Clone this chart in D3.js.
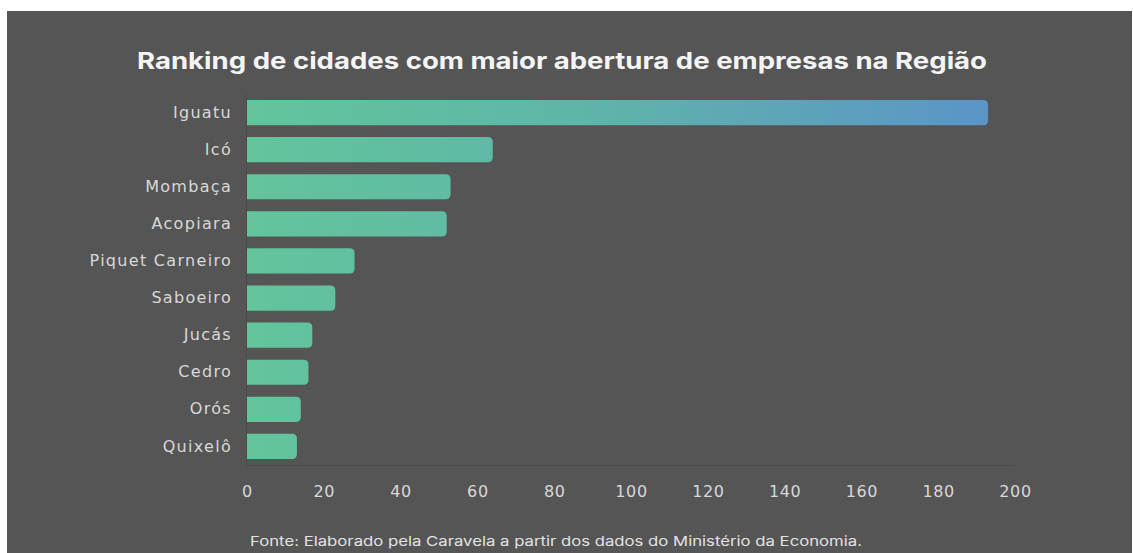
<!DOCTYPE html>
<html>
<head>
<meta charset="utf-8">
<script src="https://cdn.jsdelivr.net/npm/d3@7"></script>
<style>
  html, body { margin: 0; padding: 0; background: #ffffff; }
  svg { display: block; }
  text { font-family: "Inter", "Open Sans", sans-serif; }
</style>
</head>
<body>
<svg id="chart" width="1133" height="553"></svg>
<script>
// Cities ranked by number of new companies opened
const cities = ["Iguatu", "Icó", "Mombaça", "Acopiara", "Piquet Carneiro",
                "Saboeiro", "Jucás", "Cedro", "Orós", "Quixelô"];
const openings = [193, 64, 53, 52, 28, 23, 17, 16, 14, 13];
const xTicks = [0, 20, 40, 60, 80, 100, 120, 140, 160, 180, 200];

const titleText = "Ranking de cidades com maior abertura de empresas na Região";
const sourceText = "Fonte: Elaborado pela Caravela a partir dos dados do Ministério da Economia.";

const rows = cities.map((c, i) => ({ city: c, value: openings[i] }));

const svg = d3.select("#chart");

// dark panel
svg.append("rect")
  .attr("x", 7).attr("y", 11)
  .attr("width", 1125).attr("height", 542)
  .attr("fill", "#555555");

const x = d3.scaleLinear().domain([0, 200]).range([247, 1015]);
const y = d3.scaleBand().domain(cities).range([94, 465])
  .paddingInner(0.32).paddingOuter(0.16);

// horizontal colour ramp shared by all bars
const defs = svg.append("defs");
const grad = defs.append("linearGradient")
  .attr("id", "barGrad")
  .attr("gradientUnits", "userSpaceOnUse")
  .attr("x1", x(0)).attr("x2", x(193)).attr("y1", 0).attr("y2", 0);
grad.append("stop").attr("offset", "0%").attr("stop-color", "#62c59c");
grad.append("stop").attr("offset", "45%").attr("stop-color", "#5fb5a8");
grad.append("stop").attr("offset", "100%").attr("stop-color", "#5b95c8");

// title
svg.append("text")
  .attr("x", 562).attr("y", 69)
  .attr("text-anchor", "middle")
  .attr("font-size", 23)
  .attr("font-weight", 700)
  .attr("fill", "#f4f4f4")
  .attr("textLength", 850)
  .attr("lengthAdjust", "spacingAndGlyphs")
  .text(titleText);

// axis baselines
svg.append("line")
  .attr("x1", x(0)).attr("x2", x(200))
  .attr("y1", 465.5).attr("y2", 465.5)
  .attr("stroke", "#4b4b4b").attr("stroke-width", 1);
svg.append("line")
  .attr("x1", x(0) - 0.5).attr("x2", x(0) - 0.5)
  .attr("y1", 94).attr("y2", 466)
  .attr("stroke", "#4b4b4b").attr("stroke-width", 1);

// bars: square at the baseline, rounded at the end
const r = 5;
function barPath(d) {
  const x0 = x(0), x1 = x(d.value), y0 = y(d.city), h = y.bandwidth();
  return `M${x0},${y0}H${x1 - r}Q${x1},${y0} ${x1},${y0 + r}` +
         `V${y0 + h - r}Q${x1},${y0 + h} ${x1 - r},${y0 + h}H${x0}Z`;
}
svg.append("g").selectAll("path")
  .data(rows).join("path")
  .attr("d", barPath)
  .attr("fill", "url(#barGrad)");

const labelFont = "'DejaVu Sans', sans-serif";

// category axis
const yAxis = svg.append("g")
  .attr("transform", `translate(${x(0) - 15},0)`)
  .call(d3.axisLeft(y).tickSize(0).tickPadding(0));
yAxis.select(".domain").remove();
yAxis.selectAll("text")
  .attr("font-size", 16)
  .attr("letter-spacing", 1.3)
  .attr("fill", "#d8d8d8")
  .style("font-family", labelFont);

// value axis
const xAxis = svg.append("g")
  .attr("transform", "translate(0,466)")
  .call(d3.axisBottom(x).tickValues(xTicks).tickSize(0).tickPadding(20));
xAxis.select(".domain").remove();
xAxis.selectAll("text")
  .attr("font-size", 16)
  .attr("letter-spacing", 0.6)
  .attr("fill", "#d8d8d8")
  .style("font-family", labelFont);

// source note
svg.append("text")
  .attr("x", 556).attr("y", 546)
  .attr("text-anchor", "middle")
  .attr("font-size", 13)
  .attr("fill", "#e2e2e2")
  .attr("textLength", 612)
  .attr("lengthAdjust", "spacingAndGlyphs")
  .text(sourceText);
</script>
</body>
</html>
